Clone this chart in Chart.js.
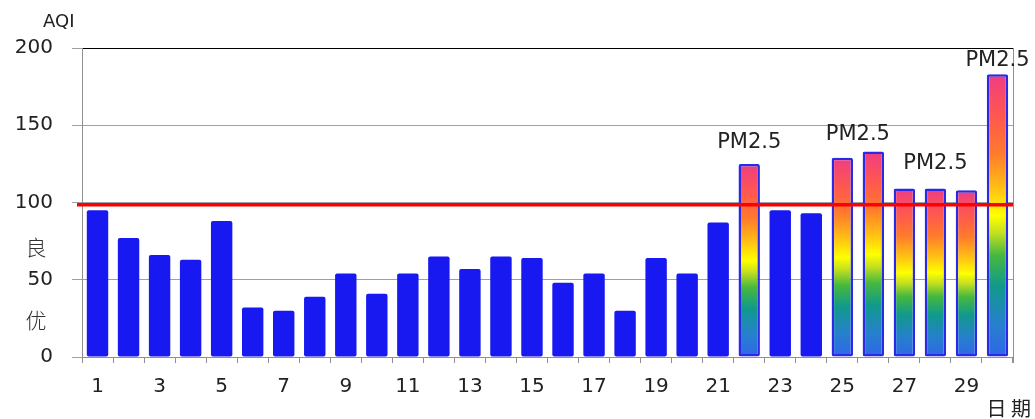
<!DOCTYPE html>
<html>
<head>
<meta charset="utf-8">
<script src="https://cdn.jsdelivr.net/npm/chart.js"></script>
<style>
  html,body{margin:0;padding:0;background:#fff;}
  #wrap{width:1035px;height:419px;}
</style>
</head>
<body>
<div id="wrap"><canvas id="myChart" width="1035" height="419"></canvas></div>
<script>
// days of the month
var days=["1","2","3","4","5","6","7","8","9","10","11","12","13","14","15",
          "16","17","18","19","20","21","22","23","24","25","26","27","28","29","30"];
// daily AQI
var aqi=[95,77,66,63,88,32,30,39,54,41,54,65,57,65,64,48,54,30,64,54,87,125,95,93,129,133,109,109,108,183];
var yTicks=[0,50,100,150,200];
// standard line (drawn red) and the level above which bars get the gradient
var standardLine=98.5;
var pollutedAbove=100;
// "PM2.5" notes: day position and AQI level where the text sits
var noteDay=[22,25.5,28,30];
var noteLevel=[139,144,125,192];
var noteText="PM2.5";
// band names on the y axis
var bandNames=["良","优"];
var bandLevel=[71,24];

var blue="#1818f0";
var fontLatin="'DejaVu Sans', Verdana, sans-serif";
var fontCJK="'Noto Sans CJK SC', sans-serif";

function rainbow(chart,v){
    var y=chart.scales.y;
    var top=y.getPixelForValue(v),bot=y.getPixelForValue(0);
    var g=chart.ctx.createLinearGradient(0,bot,0,top);
    g.addColorStop(0,"#2f66ea");
    g.addColorStop(0.12,"#2680cc");
    g.addColorStop(0.25,"#10998c");
    g.addColorStop(0.36,"#46b83e");
    g.addColorStop(0.44,"#c4e020");
    g.addColorStop(0.5,"#ffff00");
    g.addColorStop(0.6,"#ffbe14");
    g.addColorStop(0.72,"#ff7a2c");
    g.addColorStop(0.84,"#ff5a4c");
    g.addColorStop(1,"#f03c82");
    return g;
}

var extras={
    id:"extras",
    afterDatasetsDraw:function(chart){
        var c=chart.ctx,a=chart.chartArea,x=chart.scales.x,y=chart.scales.y;
        c.save();
        // right border
        c.strokeStyle="#909090";c.lineWidth=1;
        c.beginPath();c.moveTo(a.right+0.5,a.top);c.lineTo(a.right+0.5,a.bottom+6);c.stroke();
        // red standard line
        var ly=y.getPixelForValue(standardLine);
        c.strokeStyle="#ff0000";c.lineWidth=3.5;
        c.beginPath();c.moveTo(a.left-5,ly);c.lineTo(a.right,ly);c.stroke();
        // PM2.5 notes
        c.fillStyle="#222";c.textAlign="center";c.textBaseline="middle";
        c.font="21px "+fontLatin;
        for(var i=0;i<noteDay.length;i++){
            c.fillText(noteText,x.getPixelForValue(noteDay[i]-1),y.getPixelForValue(noteLevel[i]));
        }
        // axis titles
        c.font="18px "+fontLatin;c.textAlign="left";
        c.fillText("AQI",43,22);
        c.font="20px "+fontCJK;c.textAlign="right";
        c.fillText("日 期",1031,408);
        // band names
        c.font="300 21px "+fontCJK;c.textAlign="center";c.fillStyle="#333";
        for(var j=0;j<bandNames.length;j++){
            c.fillText(bandNames[j],36,y.getPixelForValue(bandLevel[j]));
        }
        c.restore();
    }
};

var ctx=document.getElementById("myChart").getContext("2d");
var chart=new Chart(ctx,{
    type:"bar",
    data:{
        labels:days,
        datasets:[{
            data:aqi,
            backgroundColor:function(context){
                var v=context.raw;
                if(v===undefined||v<=pollutedAbove||!context.chart.chartArea)return blue;
                return rainbow(context.chart,v);
            },
            borderColor:function(context){
                return context.raw>pollutedAbove?"#2a2ae6":blue;
            },
            borderWidth:function(context){
                return context.raw>pollutedAbove?2.5:0;
            },
            borderRadius:2,
            borderSkipped:false,
            barPercentage:0.69,
            categoryPercentage:1
        }]
    },
    options:{
        responsive:false,
        animation:false,
        layout:{padding:{top:48,right:22,left:0,bottom:0}},
        plugins:{legend:{display:false},tooltip:{enabled:false},title:{display:false}},
        scales:{
            x:{
                grid:{offset:true,drawOnChartArea:false,tickLength:6,color:"#909090"},
                border:{color:"#909090"},
                ticks:{
                    autoSkip:false,maxRotation:0,padding:12,
                    color:"#222",font:{family:fontLatin,size:20},
                    callback:function(val,i){return i%2===0?days[i]:"";}
                },
                afterFit:function(s){s.height=62;}
            },
            y:{
                min:yTicks[0],max:yTicks[yTicks.length-1],
                afterBuildTicks:function(s){s.ticks=yTicks.map(function(v){return {value:v};});},
                grid:{
                    tickLength:10,tickColor:"#a0a0a0",
                    color:function(c){return c.tick&&c.tick.value===200?"#000":"#a0a0a0";}
                },
                border:{color:"#909090"},
                ticks:{padding:19,color:"#222",font:{family:fontLatin,size:20}},
                afterFit:function(s){s.width=82;}
            }
        }
    },
    plugins:[extras]
});
</script>
</body>
</html>
